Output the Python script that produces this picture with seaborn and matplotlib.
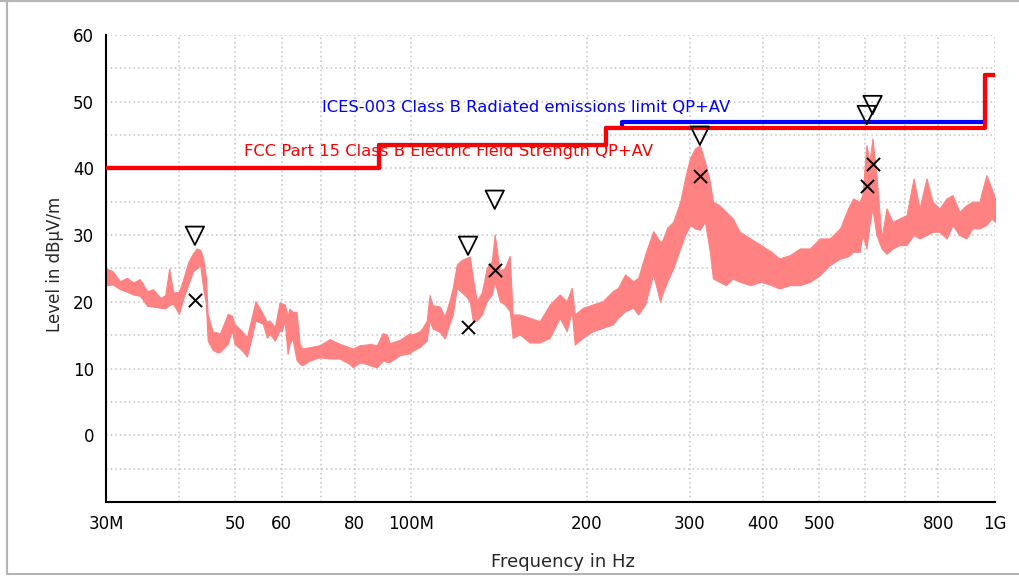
import matplotlib
matplotlib.use('Agg')
import matplotlib.pyplot as plt
import seaborn as sns
import pandas as pd
from matplotlib.lines import Line2D
from matplotlib import font_manager

# ---------------------------------------------------------------
# Data
# ---------------------------------------------------------------
# measured spectrum: frequency (MHz), upper and lower edge of the trace (dBuV/m)
freq_mhz = [30.0, 30.8, 31.7, 32.6, 33.4, 34.3, 35.3, 36.1, 37.2, 37.9,
            38.5, 39.1, 40.0, 40.6, 41.5, 42.3, 42.9, 43.5, 44.0, 44.5,
            44.8, 45.7, 46.6, 47.0, 48.5, 49.3, 49.8, 51.2, 52.3, 53.3,
            54.1, 55.7, 56.6, 57.2, 58.4, 59.5, 60.0, 60.7, 61.4, 61.9,
            62.6, 63.6, 64.4, 65.1, 67.0, 69.7, 72.5, 75.4, 78.4, 79.4,
            81.6, 83.9, 84.9, 87.3, 89.4, 90.8, 91.9, 95.6, 99.4, 100.6,
            103.4, 104.6, 106.3, 107.5, 108.8, 111.9, 114.1, 116.4, 117.8, 119.7,
            122.1, 124.5, 126.0, 127.5, 129.5, 132.1, 134.7, 137.4, 139.0, 141.8,
            144.6, 147.5, 149.2, 153.4, 159.6, 166.0, 172.7, 179.6, 184.6, 188.3,
            190.6, 196.7, 204.6, 212.8, 221.4, 226.1, 232.4, 240.0, 244.8, 251.6,
            259.7, 266.9, 269.0, 274.4, 281.0, 288.9, 294.4, 300.2, 306.2, 312.2,
            318.5, 324.8, 328.7, 336.9, 346.1, 355.4, 365.3, 380.9, 397.3, 413.8,
            427.1, 445.3, 463.3, 481.8, 501.2, 521.1, 542.7, 560.1, 571.3, 586.1,
            592.8, 602.2, 609.5, 616.7, 626.5, 639.2, 651.9, 667.5, 686.2, 705.4,
            725.2, 742.4, 763.3, 781.6, 803.4, 825.9, 846.0, 868.9, 893.4, 914.6,
            940.1, 966.5, 986.3, 999.8]
level_hi = [25.0, 24.6, 23.1, 23.6, 22.9, 23.4, 21.6, 21.9, 20.6, 21.0,
            25.0, 21.4, 21.5, 23.1, 26.0, 27.3, 28.0, 27.8, 26.6, 23.6,
            18.2, 15.5, 15.4, 15.2, 18.2, 17.9, 16.7, 15.7, 14.7, 17.7,
            20.1, 18.2, 17.0, 17.2, 16.2, 19.9, 19.8, 19.6, 18.0, 19.0,
            18.5, 18.5, 13.7, 13.0, 13.2, 13.5, 14.4, 13.7, 13.2, 13.0,
            13.5, 13.6, 13.7, 13.5, 15.3, 15.1, 13.8, 14.3, 15.3, 15.1,
            15.6, 16.1, 17.2, 21.0, 19.5, 19.3, 17.8, 20.3, 22.1, 25.6,
            26.3, 26.6, 26.8, 23.6, 20.1, 21.4, 25.1, 26.1, 30.1, 24.6,
            25.1, 26.9, 18.1, 18.1, 17.6, 17.1, 19.6, 21.1, 20.1, 22.1,
            18.1, 19.1, 19.6, 20.1, 21.6, 22.1, 24.1, 23.1, 23.6, 27.1,
            30.6, 29.0, 29.1, 31.1, 32.0, 35.0, 38.5, 41.5, 43.0, 43.5,
            41.0, 38.0, 35.0, 34.5, 33.5, 32.5, 30.5, 29.5, 28.5, 27.5,
            26.5, 27.0, 28.0, 28.0, 29.5, 29.5, 31.0, 34.0, 35.5, 35.0,
            36.0, 43.5, 41.0, 44.5, 39.0, 29.5, 34.0, 32.0, 32.5, 33.0,
            38.5, 34.0, 38.5, 35.0, 34.0, 35.5, 36.0, 33.5, 34.5, 35.0,
            35.0, 39.0, 37.0, 35.5]
level_lo = [22.5, 22.6, 21.9, 21.5, 21.1, 20.9, 19.4, 19.3, 19.1, 19.0,
            19.5, 19.7, 18.2, 20.2, 22.6, 24.6, 25.0, 25.5, 22.1, 19.6,
            14.2, 12.8, 12.4, 12.5, 13.7, 15.7, 13.7, 12.8, 11.8, 14.7,
            17.2, 16.7, 14.6, 15.2, 14.2, 15.7, 15.6, 17.2, 12.2, 13.7,
            14.5, 11.3, 10.7, 10.5, 11.2, 11.7, 11.5, 11.5, 10.7, 10.2,
            10.9, 10.7, 10.5, 10.2, 11.2, 11.0, 11.0, 12.0, 12.3, 12.7,
            13.2, 13.6, 14.2, 17.2, 16.0, 15.5, 14.5, 16.8, 18.1, 22.1,
            21.4, 20.7, 20.0, 17.2, 17.2, 18.1, 20.1, 21.1, 23.0, 20.1,
            19.6, 18.6, 14.6, 15.1, 13.9, 13.9, 14.6, 17.6, 15.6, 18.6,
            13.6, 14.6, 15.6, 16.1, 16.6, 17.6, 18.6, 19.1, 18.1, 19.6,
            24.1, 20.0, 21.1, 23.0, 25.0, 28.0, 30.0, 31.5, 31.0, 30.8,
            32.0, 27.5, 23.5, 23.0, 22.5, 23.5, 23.0, 22.5, 23.0, 22.5,
            22.0, 22.5, 22.5, 23.0, 24.0, 25.5, 26.5, 26.8, 27.5, 27.5,
            30.0, 28.0, 31.5, 34.0, 30.0, 28.0, 27.2, 28.0, 28.5, 28.5,
            30.0, 29.5, 30.0, 30.5, 30.5, 29.5, 31.5, 30.0, 29.5, 31.0,
            31.0, 31.5, 32.5, 32.0]

# limit lines (step edges in MHz, level in dBuV/m)
fcc_freq = [30, 88, 216, 960, 1000]
fcc_level = [40, 43.5, 46, 54, 54]
ices_freq = [30, 88, 216, 230, 960, 1000]
ices_level = [40, 43.5, 46, 47, 54, 54]

# peak (triangle) and final (cross) markers
peak_freq = [42.6, 125.1, 139.0, 312.2, 603.0, 617.0]
peak_level = [29.9, 28.4, 35.3, 44.9, 48.0, 49.5]
final_freq = [42.6, 125.1, 139.0, 312.2, 604.0, 617.0]
final_level = [20.3, 16.2, 24.8, 38.9, 37.3, 40.7]

x_ticks = [30, 40, 50, 60, 70, 80, 100, 200, 300, 400, 500, 600, 700, 800, 1000]
x_ticklabels = ['30M', '', '50', '60', '', '80', '100M', '200', '300', '400',
                '500', '', '', '800', '1G']
y_ticks = list(range(-5, 61, 5))
y_ticklabels = [str(v) if v % 10 == 0 else '' for v in y_ticks]

# ---------------------------------------------------------------
# Plot
# ---------------------------------------------------------------
sns.set_theme(style='white')
plt.rcParams['font.family'] = ['DejaVu Sans']

installed = {f.name for f in font_manager.fontManager.ttflist}
narrow_ok = 'Liberation Sans Narrow' in installed
limit_font = ['Liberation Sans Narrow', 'DejaVu Sans'] if narrow_ok else ['DejaVu Sans']
limit_size = 14 if narrow_ok else 11.8

fig = plt.figure(figsize=(10.2, 5.76), dpi=100)
fig.patch.set_facecolor('white')
ax = fig.add_axes([0.1039, 0.1285, 0.8716, 0.8108])

trace = pd.DataFrame({'f': freq_mhz, 'hi': level_hi, 'lo': level_lo})
ax.fill_between(trace['f'], trace['lo'], trace['hi'], color='#ff8282',
                lw=0.8, zorder=2)

ices = pd.DataFrame({'f': ices_freq, 'lvl': ices_level})
fcc = pd.DataFrame({'f': fcc_freq, 'lvl': fcc_level})
sns.lineplot(data=ices, x='f', y='lvl', ax=ax, color='#0000ff', lw=3,
             drawstyle='steps-post', sort=False, estimator=None, zorder=3)
sns.lineplot(data=fcc, x='f', y='lvl', ax=ax, color='#ff0000', lw=3,
             drawstyle='steps-post', sort=False, estimator=None, zorder=4)

sns.scatterplot(x=peak_freq, y=peak_level, ax=ax, marker='v', s=175,
                facecolor='none', edgecolor='black', linewidth=1.3, zorder=5)
sns.scatterplot(x=final_freq, y=final_level, ax=ax, marker='x', s=90,
                color='black', linewidth=1.4, zorder=5)

ax.text(70.3, 49.2, 'ICES-003 Class B Radiated emissions limit QP+AV',
        color='#0000ff', fontsize=limit_size, family=limit_font,
        va='center', ha='left', zorder=6)
ax.text(51.7, 42.5, 'FCC Part 15 Class B Electric Field Strength QP+AV',
        color='#ff0000', fontsize=limit_size, family=limit_font,
        va='center', ha='left', zorder=6)

ax.set_xscale('log')
ax.set_xlim(30, 1000)
ax.set_ylim(-10, 60)
ax.set_xticks(x_ticks)
ax.set_xticklabels(x_ticklabels)
ax.xaxis.set_minor_locator(matplotlib.ticker.NullLocator())
ax.set_yticks(y_ticks)
ax.set_yticklabels(y_ticklabels)

ax.grid(True, color='#c4c4c4', linestyle=(0, (1, 2)), lw=1.1, zorder=0)
ax.set_axisbelow(True)
for side in ['top', 'right']:
    ax.spines[side].set_visible(False)
for side in ['left', 'bottom']:
    ax.spines[side].set_color('black')
    ax.spines[side].set_linewidth(1.5)
ax.tick_params(axis='both', direction='inout', length=11, width=1.5,
               colors='black', labelsize=12)
ax.tick_params(axis='x', pad=4)
ax.tick_params(axis='y', pad=3)

ax.set_xlabel('')
ax.set_ylabel('')
fig.text(0.552, 1 - 562 / 576, 'Frequency in Hz', fontsize=13,
         ha='center', va='center')
fig.text(55 / 1020, 1 - 264 / 576, 'Level in dBµV/m', fontsize=12,
         rotation=90, ha='center', va='center')

# window frame
frame = '#b4b4b4'
fig.add_artist(Line2D([7 / 1020, 7 / 1020], [0.003, 0.998], color=frame, lw=1.5))
fig.add_artist(Line2D([7 / 1020, 1.0], [1 - 574 / 576, 1 - 574 / 576], color=frame, lw=1.5))
fig.add_artist(Line2D([0.0, 1.0], [0.998, 0.998], color=frame, lw=1.5))

fig.savefig('out.png', dpi=100)
